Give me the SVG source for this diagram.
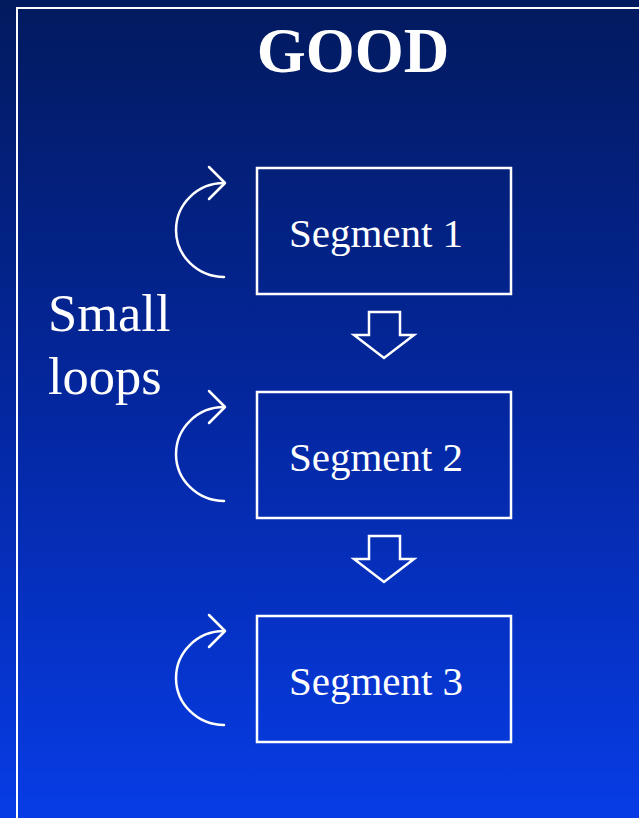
<svg xmlns="http://www.w3.org/2000/svg" width="639" height="818" viewBox="0 0 639 818">
<defs>
<linearGradient id="bg" x1="0" y1="0" x2="0" y2="1">
<stop offset="0" stop-color="#021a5e"/>
<stop offset="0.5" stop-color="#0427a0"/>
<stop offset="1" stop-color="#073ce6"/>
</linearGradient>
<style>
.box{fill:none;stroke:#fff;stroke-width:2.5}
.txt{font-family:"Liberation Serif","Times New Roman",serif;fill:#fff}
.loop{fill:none;stroke:#fff;stroke-width:2.5;stroke-linecap:round;stroke-linejoin:round}
.blk{fill:none;stroke:#fff;stroke-width:2.5;stroke-linejoin:miter}
</style>
</defs>
<rect x="0" y="0" width="639" height="818" fill="url(#bg)"/>
<path d="M17,818 V8 H639" fill="none" stroke="#fff" stroke-width="2"/>
<text class="txt" x="353" y="72" font-size="63" font-weight="bold" text-anchor="middle">GOOD</text>
<g id="label-small-loops">
<text class="txt" x="48" y="331" font-size="52.5">Small</text>
<text class="txt" x="48" y="394" font-size="52.5">loops</text>
</g>
<g id="seg1">
<rect class="box" x="257" y="168" width="254" height="126"/>
<text class="txt" x="376" y="247" font-size="41" text-anchor="middle">Segment 1</text>
</g>
<g id="seg2">
<rect class="box" x="257" y="392" width="254" height="126"/>
<text class="txt" x="376" y="471" font-size="41" text-anchor="middle">Segment 2</text>
</g>
<g id="seg3">
<rect class="box" x="257" y="616" width="254" height="126"/>
<text class="txt" x="376" y="695" font-size="41" text-anchor="middle">Segment 3</text>
</g>
<g id="connectors">
<g id="loop1">
<path class="loop" d="M224,277 A48,47 0 0 1 224,183"/>
<path class="loop" d="M209,167 L225,183 L209,199"/>
</g>
<g id="loop2" transform="translate(0,224)">
<path class="loop" d="M224,277 A48,47 0 0 1 224,183"/>
<path class="loop" d="M209,167 L225,183 L209,199"/>
</g>
<g id="loop3" transform="translate(0,448)">
<path class="loop" d="M224,277 A48,47 0 0 1 224,183"/>
<path class="loop" d="M209,167 L225,183 L209,199"/>
</g>
<path id="arrow1-2" class="blk" d="M369,312 H400 V335 H414 L384,358 L354,335 H369 Z"/>
<path id="arrow2-3" class="blk" d="M369,536 H400 V559 H414 L384,582 L354,559 H369 Z"/>
</g>
</svg>
